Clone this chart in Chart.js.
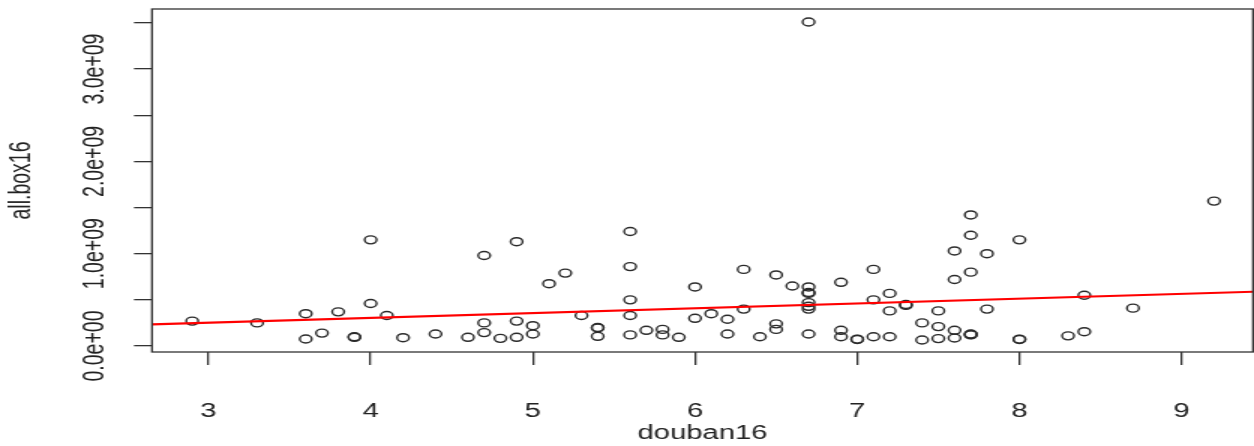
<!DOCTYPE html>
<html>
<head>
<meta charset="utf-8">
<script src="https://cdn.jsdelivr.net/npm/chart.js@4.4.0/dist/chart.umd.min.js"></script>
<style>
  html, body { margin: 0; padding: 0; background: #fff; }
</style>
</head>
<body>
<!-- the reference is an R plot stretched sideways, so the canvas is drawn narrow and widened by css -->
<canvas id="plot" width="836" height="446" style="display:block;width:1254px;height:446px"></canvas>
<script>
// douban16 score and all.box16 for each film
const douban16 = [2.9, 3.3, 3.6, 3.6, 3.7, 3.8, 3.9, 3.9, 4.0, 4.0, 4.1, 4.2, 4.4, 4.6,
  4.7, 4.7, 4.7, 4.8, 4.9, 4.9, 4.9, 5.0, 5.0, 5.1, 5.2, 5.3, 5.4, 5.4, 5.4,
  5.6, 5.6, 5.6, 5.6, 5.6, 5.7, 5.8, 5.8, 5.9, 6.0, 6.0, 6.1, 6.2, 6.2, 6.3, 6.3,
  6.4, 6.5, 6.5, 6.5, 6.6, 6.7, 6.7, 6.7, 6.7, 6.7, 6.7, 6.7, 6.7, 6.9, 6.9, 6.9,
  7.0, 7.0, 7.1, 7.1, 7.1, 7.2, 7.2, 7.2, 7.3, 7.3, 7.4, 7.4, 7.5, 7.5, 7.5,
  7.6, 7.6, 7.6, 7.6, 7.7, 7.7, 7.7, 7.7, 7.7, 7.7, 7.8, 7.8, 8.0, 8.0, 8.0,
  8.3, 8.4, 8.4, 8.7, 9.2];
const box16 = [0.27e9, 0.25e9, 0.35e9, 0.076e9, 0.14e9, 0.37e9, 0.094e9, 0.10e9, 0.46e9, 1.15e9, 0.33e9, 0.09e9, 0.13e9, 0.094e9,
  0.98e9, 0.25e9, 0.145e9, 0.083e9, 1.13e9, 0.27e9, 0.094e9, 0.22e9, 0.13e9, 0.675e9, 0.79e9, 0.33e9, 0.195e9, 0.20e9, 0.105e9,
  1.24e9, 0.86e9, 0.50e9, 0.33e9, 0.12e9, 0.17e9, 0.18e9, 0.12e9, 0.094e9, 0.64e9, 0.30e9, 0.35e9, 0.29e9, 0.13e9, 0.83e9, 0.40e9,
  0.10e9, 0.77e9, 0.24e9, 0.18e9, 0.65e9, 3.51e9, 0.64e9, 0.58e9, 0.57e9, 0.47e9, 0.43e9, 0.40e9, 0.13e9, 0.69e9, 0.17e9, 0.10e9,
  0.07e9, 0.075e9, 0.83e9, 0.50e9, 0.10e9, 0.57e9, 0.38e9, 0.10e9, 0.44e9, 0.45e9, 0.25e9, 0.065e9, 0.38e9, 0.21e9, 0.08e9,
  1.03e9, 0.72e9, 0.17e9, 0.087e9, 1.42e9, 1.20e9, 0.80e9, 0.12e9, 0.125e9, 0.13e9, 1.00e9, 0.40e9, 1.15e9, 0.07e9, 0.075e9,
  0.11e9, 0.55e9, 0.155e9, 0.41e9, 1.57e9];

// red fitted line, read at the two edges of the plot
const fitX = [2.652, 9.44];
const fitY = [0.235e9, 0.588e9];

const xTicks = [3, 4, 5, 6, 7, 8, 9];
const yTicks = [0, 0.5e9, 1e9, 1.5e9, 2e9, 2.5e9, 3e9, 3.5e9];
const yTickLabels = ['0.0e+00', '', '1.0e+09', '', '2.0e+09', '', '3.0e+09', ''];

const font = '"Liberation Sans", Arial, sans-serif';

const boxPlugin = {
  id: 'box',
  afterDatasetsDraw(chart) {
    const { ctx, chartArea: a } = chart;
    ctx.save();
    ctx.strokeStyle = '#333';
    ctx.lineWidth = 1.3;
    ctx.strokeRect(a.left, a.top, a.right - a.left, a.bottom - a.top);
    ctx.restore();
  }
};

new Chart(document.getElementById('plot'), {
  type: 'scatter',
  data: {
    datasets: [{
      data: fitX.map((x, i) => ({ x: x, y: fitY[i] })),
      showLine: true,
      borderColor: '#ff0000',
      borderWidth: 2.2,
      pointRadius: 0
    }, {
      data: douban16.map((x, i) => ({ x: x, y: box16[i] })),
      pointRadius: 4,
      pointHoverRadius: 4,
      pointBorderWidth: 1.4,
      pointBorderColor: '#2a2a2a',
      pointBackgroundColor: 'rgba(0,0,0,0)'
    }]
  },
  options: {
    responsive: false,
    devicePixelRatio: 1,
    animation: false,
    layout: { autoPadding: false, padding: { left: 0, right: 0.67, top: 9, bottom: 0 } },
    plugins: {
      legend: { display: false },
      tooltip: { enabled: false }
    },
    scales: {
      x: {
        type: 'linear',
        min: 2.652,
        max: 9.44,
        afterBuildTicks: s => { s.ticks = xTicks.map(v => ({ value: v })) },
        afterFit: s => { s.height = 94; s.paddingLeft = 0; s.paddingRight = 0 },
        border: { display: false },
        grid: { drawOnChartArea: false, tickLength: 13, color: '#333', lineWidth: 1.3 },
        ticks: {
          autoSkip: false,
          maxRotation: 0,
          padding: 35,
          color: '#222',
          font: { family: font, size: 19.5 }
        },
        title: {
          display: true,
          text: 'douban16',
          color: '#222',
          font: { family: font, size: 19.5 },
          padding: { top: 0, bottom: 1 }
        }
      },
      y: {
        type: 'linear',
        min: -0.065e9,
        max: 3.651e9,
        afterBuildTicks: s => { s.ticks = yTicks.map(v => ({ value: v })) },
        afterFit: s => { s.width = 101.33; s.paddingTop = 0; s.paddingBottom = 0 },
        border: { display: false },
        grid: { drawOnChartArea: false, tickLength: 12, color: '#333', lineWidth: 1.3 },
        ticks: {
          autoSkip: false,
          minRotation: 90,
          maxRotation: 90,
          crossAlign: 'center',
          padding: -10,
          color: '#222',
          font: { family: font, size: 19.5 },
          callback: (v, i) => yTickLabels[i]
        },
        title: {
          display: true,
          text: 'all.box16',
          color: '#222',
          font: { family: font, size: 19.5 },
          padding: { top: 3, bottom: 0 }
        }
      }
    }
  },
  plugins: [boxPlugin]
});
</script>
</body>
</html>
